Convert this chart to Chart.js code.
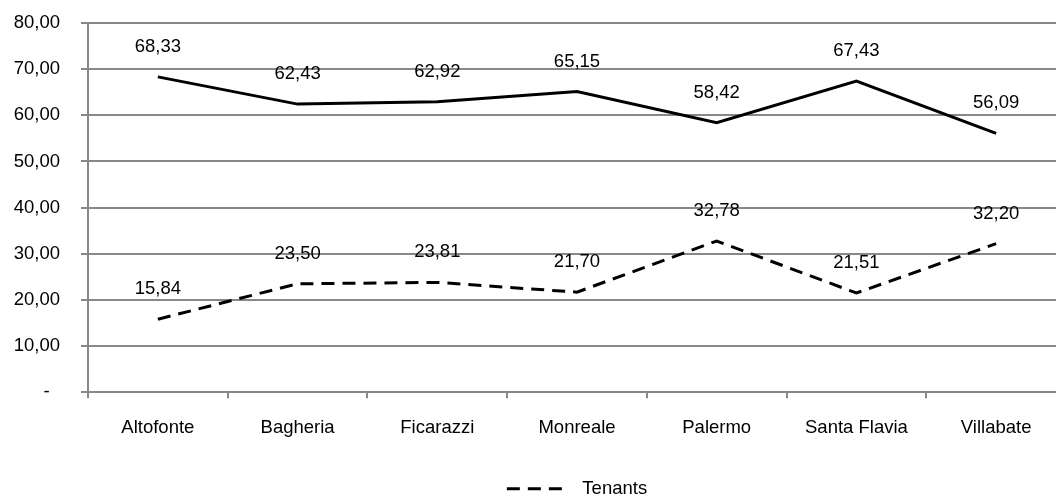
<!DOCTYPE html>
<html>
<head>
<meta charset="utf-8">
<script src="https://cdn.jsdelivr.net/npm/chart.js@4/dist/chart.umd.min.js"></script>
<style>
html,body{margin:0;padding:0;background:#fff;overflow:hidden;}
#wrap{width:1066px;height:500px;position:relative;}
</style>
</head>
<body>
<div id="wrap"><canvas id="c" width="1066" height="500"></canvas></div>
<script>
const categories = ["Altofonte","Bagheria","Ficarazzi","Monreale","Palermo","Santa Flavia","Villabate"];
const owners = [68.33, 62.43, 62.92, 65.15, 58.42, 67.43, 56.09];
const tenants = [15.84, 23.50, 23.81, 21.70, 32.78, 21.51, 32.20];
const seriesNames = ["Owners", "Tenants"];
const yTicks = [0,10,20,30,40,50,60,70,80];

const FONT = "'Liberation Sans', Arial, sans-serif";
const FS = 18.5;
const GRID = '#888888';
const DASH = [13, 8];

function fmt(v){ return v.toFixed(2).replace('.', ','); }

const labelPlugin = {
  id: 'valueLabels',
  afterDatasetsDraw(chart){
    const ctx = chart.ctx;
    ctx.save();
    ctx.font = FS + 'px ' + FONT;
    ctx.fillStyle = '#000';
    ctx.textAlign = 'center';
    ctx.textBaseline = 'middle';
    chart.data.datasets.forEach((ds, i) => {
      const meta = chart.getDatasetMeta(i);
      meta.data.forEach((pt, j) => {
        ctx.fillText(fmt(ds.data[j]), pt.x, pt.y - 30);
      });
    });
    ctx.restore();
  }
};

new Chart(document.getElementById('c'), {
  type: 'line',
  data: {
    labels: categories,
    datasets: [
      { label: seriesNames[0], data: owners, borderColor: '#000', borderWidth: 3, pointRadius: 0, tension: 0, fill: false },
      { label: seriesNames[1], data: tenants, borderColor: '#000', borderWidth: 3, borderDash: DASH, pointRadius: 0, tension: 0, fill: false }
    ]
  },
  options: {
    responsive: false,
    animation: false,
    layout: { padding: { top: 23, right: 0, left: 0, bottom: -8 } },
    plugins: {
      legend: {
        position: 'bottom',
        fullSize: false,
        labels: {
          usePointStyle: true,
          pointStyle: 'line',
          pointStyleWidth: 56,
          boxHeight: 8,
          padding: 21,
          color: '#000',
          font: { size: FS, family: FONT },
          generateLabels(chart){
            return [{
              text: '  ' + chart.data.datasets[1].label,
              datasetIndex: 1,
              pointStyle: 'line',
              strokeStyle: '#000',
              fillStyle: '#000',
              fontColor: '#000',
              lineWidth: 3,
              lineDash: DASH,
              lineCap: 'butt',
              hidden: false
            }];
          }
        }
      },
      tooltip: { enabled: false }
    },
    scales: {
      x: {
        offset: true,
        grid: { offset: true, drawOnChartArea: false, drawTicks: true, tickLength: 6, color: GRID, lineWidth: 2 },
        border: { color: GRID, width: 2 },
        ticks: { color: '#000', font: { size: FS, family: FONT }, padding: 19, maxRotation: 0, autoSkip: false }
      },
      y: {
        min: 0, max: 80,
        afterBuildTicks(scale){ scale.ticks = yTicks.map(v => ({ value: v })); },
        afterFit(scale){ scale.width = 88; scale.paddingTop = 12; scale.paddingBottom = 12; },
        grid: { color: GRID, lineWidth: 2, tickLength: 7, drawTicks: true },
        border: { color: GRID, width: 2 },
        ticks: {
          color: '#000', font: { size: FS, family: FONT }, padding: 21,
          callback: (v) => v === 0 ? '-  ' : fmt(v)
        }
      }
    }
  },
  plugins: [labelPlugin]
});
</script>
</body>
</html>
